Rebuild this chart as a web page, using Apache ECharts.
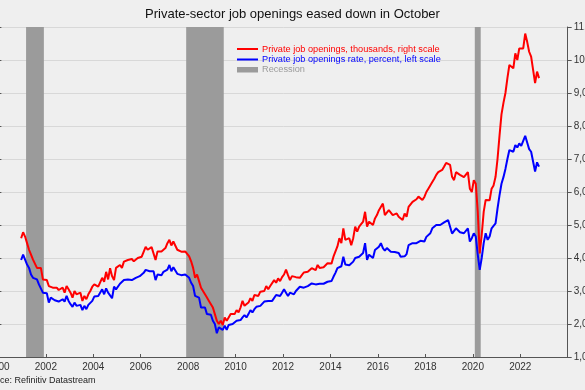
<!DOCTYPE html>
<html>
<head>
<meta charset="utf-8">
<script src="https://cdn.jsdelivr.net/npm/echarts@6/dist/echarts.min.js"></script>
<style>
html,body{margin:0;padding:0;background:#efefef;}
#chart{width:585px;height:390px;}
</style>
</head>
<body>
<div id="chart"></div>
<script>
// ---- Data (monthly, starting Dec 2000) ----
const startYear = 2000;
const startMonth = 12;

// Private job openings, thousands (right scale)
const openingsK = [
  4600,
  4780, 4650, 4450, 4250, 4100, 3950, 3970, 3700, 3750, 3700, 3350, 3330,
  3330, 3150, 3200, 3100, 3050, 3100, 3030, 3000, 3100, 2950, 3150, 3050,
  2950, 2800, 3000, 2900, 2850, 2950, 2700, 2850, 2750, 2900, 3000, 3130,
  3200, 3210, 3130, 3150, 3400, 3280, 3580, 3350, 3690, 3450, 3330, 3700,
  3650, 3790, 3700, 3890, 3850, 3940, 3900, 3970, 3900, 3950, 4000, 3980,
  4040, 4100, 4340, 4250, 4200, 4330, 4300, 3940, 4200, 4250, 4200, 4240,
  4300, 4450, 4550, 4380, 4500, 4450, 4250, 4300, 4190, 4230, 4200, 4150,
  4050, 3900, 3700, 3400, 3500, 3300, 3100, 3000, 3050, 2800, 2700, 2750,
  2500, 2300, 2100, 2000, 2100, 1970, 2200, 2100, 2200, 2300, 2250, 2300,
  2420, 2350, 2500, 2700, 2550, 2520, 2650, 2780, 2700, 2880, 2850, 2850,
  2980, 2950, 3000, 3150, 3050, 3150, 3130, 3330, 3250, 3380, 3300, 3420,
  3500, 3650, 3480, 3330, 3450, 3500, 3420, 3470, 3400, 3480, 3560, 3500,
  3580, 3600, 3690, 3650, 3630, 3790, 3700, 3650, 3720, 3700, 3840, 3780,
  3830, 4040, 4050, 4350, 4600, 4450, 4900, 4550, 4500, 4600, 4390, 4600,
  4950, 4800, 4950, 4900, 5100, 5400, 4950, 5100, 5050, 5000, 5200, 5300,
  5450, 5500, 5650, 5300, 5350, 5450, 5500, 5300, 5250, 5350, 5250, 5200,
  5150, 5350, 5250, 5550, 5500, 5700, 5750, 5780, 5860, 5830, 5760, 5850,
  6000, 6100, 6150, 6300, 6400, 6520, 6600, 6550, 6670, 6770, 6880, 6850,
  6820, 6460, 6360, 6600, 6550, 6520, 6500, 6450, 6420, 6600, 6100, 6000,
  6360, 6250, 5400, 4140, 4700, 5400, 5760, 5700, 5750, 6100, 6200, 6460,
  7000, 7700, 8350, 8700, 9000, 9450, 9850, 9800, 9750, 10200, 10000, 10350,
  10300, 10350, 10800, 10550, 10250, 10100, 10050, 9300, 9650, 9450
];

// Private job openings rate, percent (left scale)
const rateP = [
  3.94,
  4.10, 3.95, 3.80, 3.70, 3.50, 3.40, 3.45, 3.35, 3.20, 3.25, 2.95, 2.93,
  2.93, 2.65, 2.80, 2.75, 2.72, 2.78, 2.68, 2.70, 2.75, 2.68, 2.85, 2.70,
  2.60, 2.52, 2.65, 2.55, 2.52, 2.58, 2.42, 2.55, 2.45, 2.58, 2.60, 2.70,
  2.83, 2.83, 2.85, 2.90, 3.05, 2.90, 3.08, 2.95, 3.00, 2.78, 3.13, 3.05,
  3.10, 3.22, 3.20, 3.33, 3.30, 3.35, 3.38, 3.33, 3.38, 3.40, 3.42, 3.45,
  3.48, 3.55, 3.64, 3.62, 3.60, 3.64, 3.60, 3.33, 3.50, 3.50, 3.48, 3.58,
  3.60, 3.65, 3.79, 3.60, 3.72, 3.70, 3.52, 3.55, 3.48, 3.52, 3.50, 3.45,
  3.40, 3.25, 3.15, 2.85, 2.90, 2.80, 2.50, 2.55, 2.50, 2.30, 2.25, 2.28,
  2.10, 2.00, 1.72, 1.90, 1.85, 1.82, 1.95, 1.82, 1.97, 1.95, 2.00, 1.98,
  2.10, 2.08, 2.12, 2.20, 2.27, 2.20, 2.30, 2.42, 2.35, 2.45, 2.52, 2.50,
  2.55, 2.60, 2.68, 2.62, 2.70, 2.73, 2.70, 2.75, 2.88, 2.82, 2.85, 2.95,
  3.05, 2.95, 2.85, 2.95, 2.93, 2.90, 3.00, 2.95, 3.13, 3.08, 3.10, 3.12,
  3.15, 3.20, 3.23, 3.28, 3.20, 3.25, 3.22, 3.25, 3.22, 3.25, 3.28, 3.30,
  3.30, 3.43, 3.55, 3.69, 3.65, 3.75, 4.04, 3.80, 3.84, 3.78, 3.75, 3.89,
  4.00, 3.95, 4.04, 4.00, 4.15, 4.45, 3.94, 4.10, 4.05, 4.00, 4.24, 4.20,
  4.34, 4.45, 4.30, 4.22, 4.30, 4.25, 4.19, 4.15, 4.18, 4.12, 4.15, 4.04,
  4.10, 4.05, 4.12, 4.39, 4.35, 4.45, 4.42, 4.45, 4.50, 4.52, 4.48, 4.50,
  4.64, 4.70, 4.75, 4.90, 4.95, 5.00, 4.98, 5.00, 5.05, 5.08, 5.10, 5.15,
  5.10, 4.74, 4.80, 4.90, 4.85, 4.78, 4.76, 4.75, 4.78, 4.90, 4.50, 4.60,
  4.75, 4.65, 4.10, 3.64, 4.00, 4.45, 4.75, 4.55, 4.65, 4.90, 4.85, 5.05,
  5.50, 5.90, 6.25, 6.45, 6.70, 7.00, 7.27, 7.27, 7.22, 7.42, 7.35, 7.47,
  7.40, 7.45, 7.70, 7.50, 7.30, 7.22, 7.17, 6.62, 6.90, 6.77
];

// Recessions: [first month, last month]
const recessions = [
  ['2001-03', '2001-11'],
  ['2007-12', '2009-06'],
  ['2020-02', '2020-04']
];

const titleText = 'Private-sector job openings eased down in October';
const sourceText = 'Source: Refinitiv Datastream';
const nameOpenings = 'Private job openings, thousands, right scale';
const nameRate = 'Private job openings rate, percent, left scale';
const nameRecession = 'Recession';

// ---- Build ----
function monthStart(s) { const [y, m] = s.split('-').map(Number); return y + (m - 1) / 12; }
const xs = openingsK.map((_, i) => startYear + (startMonth - 1 + i + 0.5) / 12);
const redData = xs.map((x, i) => [x, openingsK[i]]);
const blueData = xs.map((x, i) => [x, rateP[i]]);
const areaData = recessions.map(r => [{ xAxis: monthStart(r[0]) }, { xAxis: monthStart(r[1]) + 1 / 12 }]);

const FONT = 'Liberation Sans, Arial, sans-serif';
const chart = echarts.init(document.getElementById('chart'), null, { renderer: 'canvas' });
chart.setOption({
  animation: false,
  backgroundColor: '#efefef',
  title: {
    text: titleText, left: 'center', top: 3,
    textStyle: { fontFamily: FONT, fontSize: 13, fontWeight: 'normal', color: '#111' }
  },
  grid: { left: -1.6, right: 17.3, top: 27, bottom: 33, containLabel: false, outerBoundsMode: 'none' },
  xAxis: {
    type: 'value', min: 2000, max: 2024, interval: 2,
    axisLine: { show: true, lineStyle: { color: '#555', width: 1 } },
    axisTick: { show: true, inside: true, length: 3, lineStyle: { color: '#555' } },
    axisLabel: { formatter: v => String(v), fontFamily: FONT, fontSize: 10, color: '#333', margin: 5, showMaxLabel: false, hideOverlap: false },
    splitLine: { show: false }
  },
  yAxis: [
    {
      type: 'value', position: 'left', min: 1, max: 11, interval: 1,
      axisLine: { show: true, lineStyle: { color: '#555' } },
      axisTick: { show: true, inside: true, length: 3, lineStyle: { color: '#555' } },
      axisLabel: { fontFamily: FONT, fontSize: 10, color: '#333', formatter: v => v.toFixed(1) },
      splitLine: { show: false }
    },
    {
      type: 'value', position: 'right', min: 1000, max: 11000, interval: 1000,
      axisLine: { show: true, lineStyle: { color: '#555' } },
      axisTick: { show: true, length: 4, lineStyle: { color: '#555' } },
      axisLabel: { fontFamily: FONT, fontSize: 10, color: '#333', margin: 6, formatter: v => v.toLocaleString('en-US') },
      splitLine: { show: true, lineStyle: { color: '#d8d8d8', width: 1 } }
    }
  ],
  series: [
    {
      name: nameRecession, type: 'line', data: [], yAxisIndex: 0, z: 1, silent: true,
      markArea: { silent: true, itemStyle: { color: '#9b9b9b', opacity: 1 }, data: areaData }
    },
    {
      name: nameRate, type: 'line', yAxisIndex: 0, data: blueData, showSymbol: false, z: 3,
      lineStyle: { color: '#0000ff', width: 2 }, itemStyle: { color: '#0000ff' }
    },
    {
      name: nameOpenings, type: 'line', yAxisIndex: 1, data: redData, showSymbol: false, z: 4,
      lineStyle: { color: '#ff0000', width: 2 }, itemStyle: { color: '#ff0000' }
    }
  ],
  graphic: [
    { type: 'rect', shape: { x: 237, y: 48, width: 21, height: 2 }, style: { fill: '#ff0000' }, z: 10 },
    { type: 'text', x: 262, y: 49, style: { text: nameOpenings, fill: '#ff0000', font: '9.2px ' + FONT, verticalAlign: 'middle' }, z: 10 },
    { type: 'rect', shape: { x: 237, y: 58.5, width: 21, height: 2 }, style: { fill: '#0000ff' }, z: 10 },
    { type: 'text', x: 262, y: 59.5, style: { text: nameRate, fill: '#0000ff', font: '9.2px ' + FONT, verticalAlign: 'middle' }, z: 10 },
    { type: 'rect', shape: { x: 237, y: 67, width: 21, height: 5.5 }, style: { fill: '#9b9b9b' }, z: 10 },
    { type: 'text', x: 262, y: 69.8, style: { text: nameRecession, fill: '#9b9b9b', font: '9.2px ' + FONT, verticalAlign: 'middle' }, z: 10 },
    { type: 'text', x: -19, y: 381, style: { text: sourceText, fill: '#222', font: '9px ' + FONT, verticalAlign: 'middle' }, z: 10 }
  ]
});
</script>
</body>
</html>
